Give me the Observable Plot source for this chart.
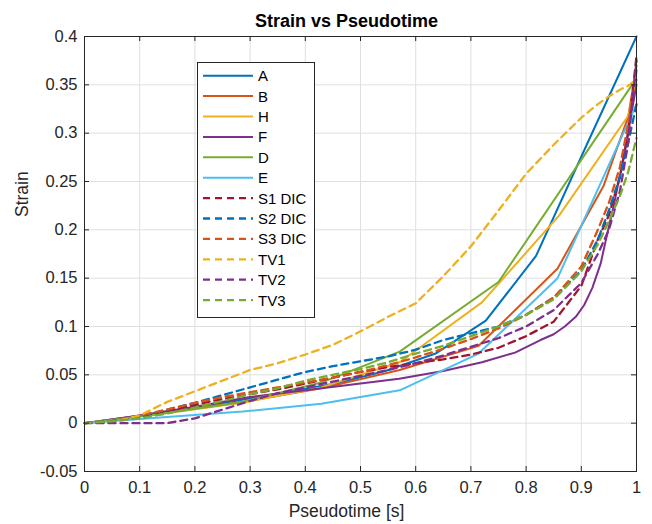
<!DOCTYPE html>
<html><head><meta charset="utf-8">
<script src="https://cdn.jsdelivr.net/npm/d3@7"></script>
<script src="https://cdn.jsdelivr.net/npm/@observablehq/plot@0.6"></script>
<style>
body{margin:0;background:#fff;}
#chart{position:relative;width:652px;height:524px;font-family:'Liberation Sans',Arial,sans-serif;}
#legend{position:absolute;left:197px;top:62px;}
</style></head><body><div id="chart"></div>
<script>
// ---- data ----
const seriesNames = ["A","B","H","F","D","E","S1 DIC","S2 DIC","S3 DIC","TV1","TV2","TV3"];
const seriesColors = ["#0072BD","#D95319","#EDB120","#7E2F8E","#77AC30","#4DBEEE","#A2142F","#0072BD","#D95319","#EDB120","#7E2F8E","#77AC30"];
const seriesDashed = [false,false,false,false,false,false,true,true,true,true,true,true];

const xA = [0,0.091,0.182,0.273,0.364,0.455,0.545,0.636,0.727,0.818,0.909,1];
const yA = [0,0.007,0.015,0.023,0.032,0.041,0.054,0.072,0.106,0.173,0.287,0.4];
const xB = [0,0.143,0.286,0.429,0.571,0.714,0.857,0.94,0.985,1];
const yB = [0,0.011,0.022,0.036,0.055,0.08,0.16,0.245,0.317,0.37];
const xH = [0,0.143,0.286,0.429,0.571,0.72,0.86,0.985,1];
const yH = [0,0.01,0.021,0.037,0.063,0.125,0.215,0.318,0.355];
const xF = [0,0.1,0.2,0.3,0.43,0.57,0.65,0.72,0.78,0.826,0.85,0.87,0.89,0.905,0.92,0.935,0.947,0.958,0.975,1];
const yF = [0,0.008,0.017,0.027,0.036,0.046,0.054,0.063,0.073,0.086,0.092,0.1,0.11,0.122,0.14,0.165,0.196,0.223,0.27,0.35];
const xD = [0,0.143,0.286,0.429,0.571,0.75,0.992,1];
const yD = [0,0.01,0.022,0.042,0.074,0.146,0.35,0.355];
const xE = [0,0.143,0.286,0.429,0.571,0.714,0.857,1];
const yE = [0,0.006,0.012,0.02,0.034,0.072,0.15,0.33];

const xDash = [0,0.05,0.1,0.15,0.2,0.25,0.3,0.35,0.4,0.45,0.5,0.55,0.6,0.65,0.7,0.75,0.8,0.85,0.9,0.93,0.95,0.97,0.985,1];
const yS1 = [0,0.002,0.007,0.013,0.019,0.025,0.03,0.035,0.041,0.047,0.053,0.058,0.062,0.066,0.071,0.078,0.09,0.105,0.142,0.19,0.215,0.255,0.3,0.38];
const yS2 = [0,0.002,0.007,0.014,0.021,0.029,0.037,0.045,0.053,0.059,0.064,0.069,0.076,0.086,0.093,0.1,0.112,0.13,0.158,0.19,0.22,0.255,0.29,0.33];
const yS3 = [0,0.002,0.008,0.014,0.021,0.027,0.032,0.037,0.042,0.047,0.053,0.06,0.068,0.077,0.087,0.098,0.112,0.13,0.162,0.2,0.228,0.265,0.31,0.365];
const yTV1 = [0,0.001,0.008,0.022,0.033,0.044,0.055,0.062,0.071,0.081,0.095,0.11,0.124,0.152,0.183,0.22,0.258,0.288,0.316,0.33,0.338,0.345,0.349,0.355];
const yTV2 = [0,0,0,0,0.005,0.014,0.023,0.031,0.037,0.043,0.049,0.055,0.062,0.07,0.079,0.088,0.1,0.117,0.145,0.175,0.2,0.24,0.29,0.375];
const yTV3 = [0,0.002,0.005,0.01,0.016,0.023,0.03,0.036,0.044,0.05,0.056,0.063,0.072,0.08,0.09,0.1,0.112,0.128,0.157,0.185,0.209,0.235,0.26,0.295];

const xTicks = [0,0.1,0.2,0.3,0.4,0.5,0.6,0.7,0.8,0.9,1];
const yTicks = [-0.05,0,0.05,0.1,0.15,0.2,0.25,0.3,0.35,0.4];
const titleText = "Strain vs Pseudotime";
const xLabel = "Pseudotime [s]";
const yLabel = "Strain";

// ---- build ----
const xs = [xA,xB,xH,xF,xD,xE,xDash,xDash,xDash,xDash,xDash,xDash];
const ys = [yA,yB,yH,yF,yD,yE,yS1,yS2,yS3,yTV1,yTV2,yTV3];
const seriesData = seriesNames.map((name,i)=> xs[i].map((x,j)=>({series:name,x,y:ys[i][j]})));

const W=652,H=524, mL=84, mR=16, mT=36, mB=53;
const pw = W-mL-mR, ph = H-mT-mB;
const fmt = d => String(+d.toFixed(2));
const axisColor = "#262626";
const tickLen = 5;

const lineMarks = seriesData.map((data,i)=> Plot.line(data,{
  x:"x", y:"y", stroke: seriesColors[i],
  strokeWidth: seriesDashed[i] ? 2.3 : 2,
  strokeDasharray: seriesDashed[i] ? "7,5" : null
}));

const chart = Plot.plot({
  width: W, height: H,
  marginLeft: mL, marginRight: mR, marginTop: mT, marginBottom: mB,
  style: {fontFamily:"'Liberation Sans',Arial,sans-serif", fontSize:"16px", color:axisColor, background:"white", overflow:"visible"},
  x: {domain:[0,1]},
  y: {domain:[-0.05,0.4]},
  marks: [
    Plot.gridX(xTicks, {stroke:"#dfdfdf", strokeOpacity:1}),
    Plot.gridY(yTicks, {stroke:"#dfdfdf", strokeOpacity:1}),
    ...lineMarks,
    Plot.frame({stroke:axisColor, strokeWidth:1}),
    Plot.tickX(xTicks, {x:d=>d, insetTop: ph - tickLen, stroke:axisColor}),
    Plot.tickX(xTicks, {x:d=>d, insetBottom: ph - tickLen, stroke:axisColor}),
    Plot.tickY(yTicks, {y:d=>d, insetRight: pw - tickLen, stroke:axisColor}),
    Plot.tickY(yTicks, {y:d=>d, insetLeft: pw - tickLen, stroke:axisColor}),
    Plot.axisX(xTicks, {tickSize:0, tickPadding:10, tickFormat:fmt, label:null, fontSize:16.5, fill:axisColor}),
    Plot.axisY(yTicks, {tickSize:0, tickPadding:7, tickFormat:fmt, label:null, fontSize:16.5, fill:axisColor}),
    Plot.text([titleText], {frameAnchor:"top", dy:-22, dx:-14, fontWeight:"bold", fontSize:18, fill:"#000"}),
    Plot.text([xLabel], {frameAnchor:"bottom", dy:45, dx:-14, fontSize:17.5, fill:axisColor}),
    Plot.text([yLabel], {frameAnchor:"left", dx:-62, dy:-37, rotate:-90, fontSize:17.5, fill:axisColor})
  ]
});
document.getElementById("chart").appendChild(chart);

// ---- legend (inside axes, overlay) ----
const lgW = 117, lgH = 255, rowH = 20.4, row0 = 13.7;
const lg = d3.select("#chart").append("svg").attr("id","legend")
  .attr("width", lgW+1).attr("height", lgH+1);
lg.append("rect").attr("x",0.5).attr("y",0.5).attr("width",lgW).attr("height",lgH)
  .attr("fill","white").attr("stroke",axisColor).attr("stroke-width",1);
seriesNames.forEach((name,i)=>{
  const yy = row0 + i*rowH;
  lg.append("line").attr("x1",6).attr("x2",56).attr("y1",yy).attr("y2",yy)
    .attr("stroke",seriesColors[i]).attr("stroke-width", seriesDashed[i]?2.3:2)
    .attr("stroke-dasharray", seriesDashed[i]?"7,5":null);
  lg.append("text").attr("x",61).attr("y",yy).attr("dy","0.36em")
    .attr("font-size",15).attr("fill","#000").text(name);
});
</script></body></html>
